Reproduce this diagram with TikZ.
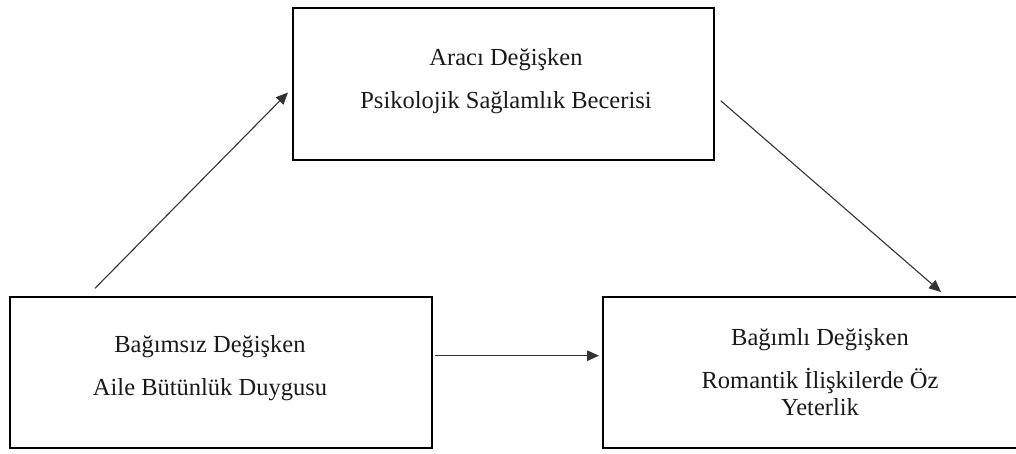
\documentclass[tikz,border=0pt]{standalone}
\usepackage{fontspec}
\setmainfont{Liberation Serif}
\usetikzlibrary{arrows.meta}
\begin{document}
\begin{tikzpicture}[x=1pt,y=-1pt,
  box/.style={draw=black,line width=1.6pt,rectangle,inner sep=0pt},
  txt/.style={anchor=base,inner sep=0pt,font=\fontsize{24.5}{27}\selectfont,text=black!90},
  conn/.style={draw=black!80,line width=1.1pt,-{Triangle[length=12pt,width=10.5pt]}}]
\useasboundingbox (0,0) rectangle (1016,453);
% boxes
\node[box,minimum width=421pt,minimum height=152pt] (top) at (503.5,84) {};
\node[box,minimum width=422pt,minimum height=151pt] (bl) at (221,372.5) {};
\node[box,minimum width=422pt,minimum height=151pt] (br) at (814,372.5) {};
% texts
\node[txt] (t1) at (506,65.7) {Aracı Değişken};
\node[txt] (t2) at (506,108.3) {Psikolojik Sağlamlık Becerisi};
\node[txt] (b1) at (210,352.7) {Bağımsız Değişken};
\node[txt] (b2) at (210,395) {Aile Bütünlük Duygusu};
\node[txt] (r1) at (820,345) {Bağımlı Değişken};
\node[txt] (r2) at (820,388.3) {Romantik İlişkilerde Öz};
\node[txt] (r3) at (820,415) {Yeterlik};
% connector ends
\coordinate (a1s) at (95,288.3);
\coordinate (a1e) at (288,92.5);
\coordinate (a2s) at (720.7,100.7);
\coordinate (a2e) at (941,292);
\coordinate (a3s) at (435,355.7);
\coordinate (a3e) at (599,355.7);
\draw[conn] (a1s) -- (a1e);
\draw[conn] (a2s) -- (a2e);
\draw[conn] (a3s) -- (a3e);
\end{tikzpicture}
\end{document}
